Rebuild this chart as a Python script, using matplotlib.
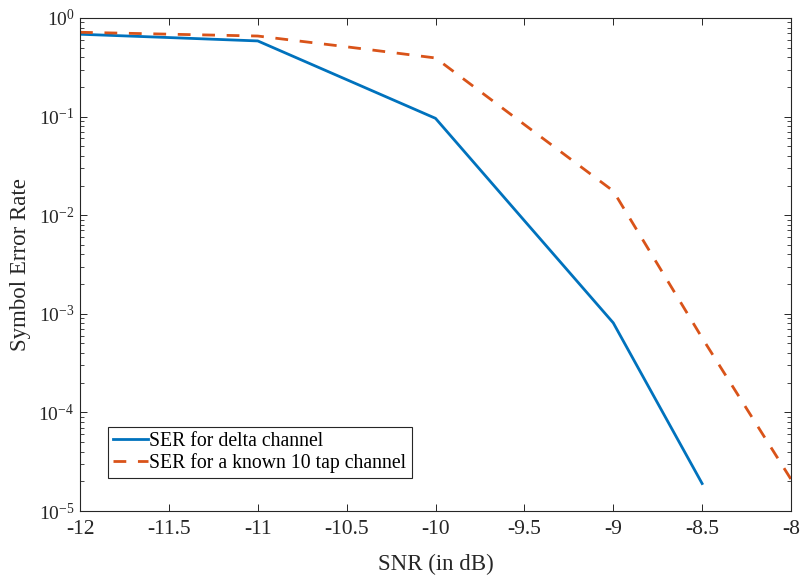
import matplotlib
matplotlib.use('Agg')
import matplotlib.pyplot as plt
from matplotlib.ticker import LogLocator, NullFormatter
import numpy as np

snr = [-12, -11.5, -11, -10.5, -10, -9.5, -9, -8.5, -8]
ser_delta = [0.684, 0.633, 0.585, 0.237, 0.096, 0.0088, 8.1e-4, 1.9e-5, np.nan]
ser_10tap = [0.716, 0.685, 0.656, 0.51, 0.393, 0.083, 0.0176, 5.7e-4, 2.1e-5]

xticks = [-12, -11.5, -11, -10.5, -10, -9.5, -9, -8.5, -8]
xticklabels = ['-12', '-11.5', '-11', '-10.5', '-10', '-9.5', '-9', '-8.5', '-8']
yticks = [1e-5, 1e-4, 1e-3, 1e-2, 1e-1, 1]
yticklabels = [r'$10^{-5}$', r'$10^{-4}$', r'$10^{-3}$', r'$10^{-2}$', r'$10^{-1}$', r'$10^{0}$']

plt.rcParams['font.family'] = ['Liberation Serif', 'DejaVu Serif']
plt.rcParams['mathtext.fontset'] = 'custom'
plt.rcParams['mathtext.rm'] = 'Liberation Serif'
plt.rcParams['mathtext.it'] = 'Liberation Serif'

axcol = '#262626'

fig = plt.figure(figsize=(8.01, 5.76), dpi=100)
ax = fig.add_axes([0.0999, 0.1128, 0.8876, 0.856])

ax.semilogy(snr, ser_delta, color='#0072BD', linewidth=2, label='SER for delta channel')
ax.semilogy(snr, ser_10tap, color='#D95319', linewidth=2, linestyle='--', dashes=(4.6, 4.2),
            dash_capstyle='butt', label='SER for a known 10 tap channel')

ax.set_xlim(-12, -8)
ax.set_ylim(1e-5, 1)
ax.set_xticks(xticks)
ax.set_xticklabels(xticklabels, fontsize=15.5)
ax.set_yticks(yticks)
ax.set_yticklabels(yticklabels, fontsize=14)
ax.yaxis.set_minor_locator(LogLocator(base=10, subs=np.arange(2, 10), numticks=20))
ax.yaxis.set_minor_formatter(NullFormatter())

ax.tick_params(which='both', direction='in', top=True, right=True, colors=axcol, labelcolor=axcol)
ax.tick_params(which='major', length=5, width=0.7)
ax.tick_params(which='minor', length=3.2, width=0.6)
ax.tick_params(axis='x', which='major', pad=6.5)
ax.tick_params(axis='y', which='major', pad=4)
for s in ax.spines.values():
    s.set_color(axcol)
    s.set_linewidth(0.8)

ax.set_xlabel('SNR (in dB)', fontsize=16.5, color=axcol)
ax.set_ylabel('Symbol Error Rate', fontsize=16.5, color=axcol)
ax.xaxis.set_label_coords(0.5, -0.087)
ax.yaxis.set_label_coords(-0.069, 0.5)

leg = ax.legend(loc='lower left', bbox_to_anchor=(0.0394, 0.0669), fancybox=False,
                edgecolor=axcol, framealpha=1, fontsize=14.2, handlelength=1.8,
                handletextpad=0.05, borderpad=0.25, labelspacing=0.1, borderaxespad=0)
leg.get_frame().set_linewidth(0.8)

fig.savefig('out.png', dpi=100)
